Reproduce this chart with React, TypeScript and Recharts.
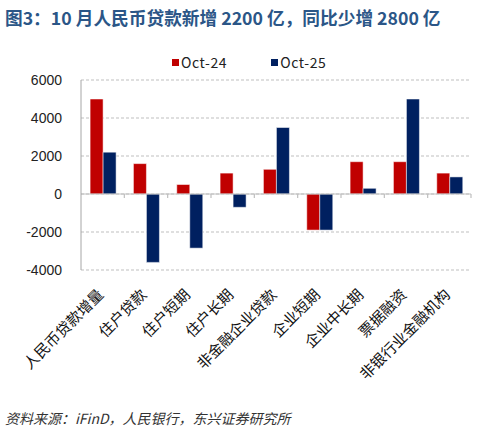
import React from 'react';
import {
  BarChart,
  Bar,
  XAxis,
  YAxis,
  CartesianGrid,
  Legend,
  ReferenceLine,
} from 'recharts';

const categories = [
  '人民币贷款增量',
  '住户贷款',
  '住户短期',
  '住户长期',
  '非金融企业贷款',
  '企业短期',
  '企业中长期',
  '票据融资',
  '非银行业金融机构',
];
const oct24 = [5000, 1600, 500, 1100, 1300, -1900, 1700, 1700, 1100];
const oct25 = [2200, -3600, -2850, -700, 3500, -1900, 300, 5000, 900];
const yTicks = [-4000, -2000, 0, 2000, 4000, 6000];

const RED = '#C00000';
const NAVY = '#002060';
const GRID = '#BFBFBF';
const CN_FONT = '"Noto Sans CJK SC", "Noto Sans", sans-serif';

const data = categories.map((name, i) => ({ name, oct24: oct24[i], oct25: oct25[i] }));

// zero line with small ticks at category boundaries (Excel style)
const ZeroLine = (props: any) => {
  const { x1, x2, y1 } = props;
  if (x1 == null) return null;
  const step = (x2 - x1) / categories.length;
  return (
    <g>
      <line x1={x1} x2={x2} y1={y1} y2={y1} stroke={GRID} strokeWidth={1.2} />
      {categories.map((_, i) => (
        <line
          key={i}
          x1={x1 + step * (i + 1)}
          x2={x1 + step * (i + 1)}
          y1={y1}
          y2={y1 + 4}
          stroke={GRID}
          strokeWidth={1.2}
        />
      ))}
    </g>
  );
};

const CategoryTick = (props: any) => {
  const { x, y, payload } = props;
  return (
    <g transform={`translate(${x - 2},${y + 8})`}>
      <text
        transform="rotate(-45)"
        textAnchor="end"
        dy="0.35em"
        fontSize={15}
        fontFamily={CN_FONT}
        fill="#111"
      >
        {payload.value}
      </text>
    </g>
  );
};

const LegendContent = () => (
  <div
    style={{
      display: 'flex',
      paddingLeft: 172,
      fontFamily: CN_FONT,
      fontSize: 14,
      color: '#222',
      lineHeight: '18px',
    }}
  >
    {[
      { label: 'Oct-24', color: RED },
      { label: 'Oct-25', color: NAVY },
    ].map((it, i) => (
      <div key={it.label} style={{ display: 'flex', alignItems: 'center', marginRight: i === 0 ? 44 : 0 }}>
        <span style={{ width: 7, height: 7, background: it.color, marginRight: 2, display: 'inline-block' }} />
        <span style={{ letterSpacing: 0.6 }}>{it.label}</span>
      </div>
    ))}
  </div>
);

export default function App() {
  return (
    <div
      style={{
        position: 'absolute',
        left: 0,
        top: 0,
        width: 480,
        height: 431,
        background: '#fff',
        overflow: 'hidden',
      }}
    >
      <div
        style={{
          position: 'absolute',
          left: 5,
          top: 4,
          fontFamily: CN_FONT,
          fontWeight: 700,
          fontSize: 17.7,
          color: '#2B5687',
          whiteSpace: 'nowrap',
        }}
      >
        图3：10 月人民币贷款新增 2200 亿，同比少增 2800 亿
      </div>

      <BarChart
        width={480}
        height={400}
        data={data}
        margin={{ top: 62, right: 9, left: 0, bottom: 30 }}
        barCategoryGap="21%"
        barGap={0}
      >
        <CartesianGrid vertical={false} stroke={GRID} strokeDasharray="3 2" />
        <Legend
          verticalAlign="top"
          content={<LegendContent />}
          wrapperStyle={{ top: 53, left: 0, width: 480 }}
        />
        <XAxis
          dataKey="name"
          height={100}
          axisLine={false}
          tickLine={false}
          interval={0}
          tick={<CategoryTick />}
          tickMargin={8}
        />
        <YAxis
          width={81}
          domain={[-4000, 6000]}
          ticks={yTicks}
          tickLine={false}
          axisLine={{ stroke: '#A6A6A6' }}
          tickMargin={13}
          tick={{ fontSize: 14, fill: '#222', fontFamily: '"Liberation Sans", Arial, sans-serif' }}
        />
        <ReferenceLine y={0} shape={<ZeroLine />} />
        <Bar
          dataKey="oct24"
          name="Oct-24"
          fill={RED}
          stroke="#ffffff"
          strokeOpacity={0.5}
          strokeWidth={1}
          isAnimationActive={false}
        />
        <Bar
          dataKey="oct25"
          name="Oct-25"
          fill={NAVY}
          stroke="#ffffff"
          strokeOpacity={0.5}
          strokeWidth={1}
          isAnimationActive={false}
        />
      </BarChart>

      <div
        style={{
          position: 'absolute',
          left: 5,
          top: 408,
          fontFamily: CN_FONT,
          fontStyle: 'italic',
          fontSize: 14,
          color: '#333',
          whiteSpace: 'nowrap',
        }}
      >
        资料来源：iFinD，人民银行，东兴证券研究所
      </div>
    </div>
  );
}
